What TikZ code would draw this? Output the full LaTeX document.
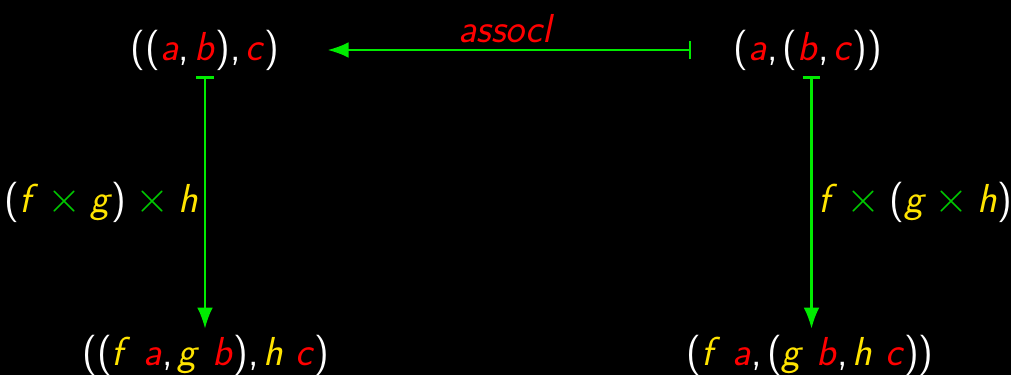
\documentclass[tikz,border=0pt]{standalone}
\usepackage{tikz}
\usetikzlibrary{arrows.meta}

\definecolor{varred}{RGB}{255,0,0}
\definecolor{funyellow}{RGB}{255,228,0}
\definecolor{arrgreen}{RGB}{0,235,0}
\definecolor{opgreen}{RGB}{0,200,0}

\newcommand{\vr}[1]{\textcolor{varred}{\textit{#1}}}
\newcommand{\fn}[1]{\textcolor{funyellow}{\textit{#1}}}
\newcommand{\tm}{\hspace{0.22em}\textcolor{opgreen}{$\times$}\hspace{0.22em}}
\newcommand{\cm}{,\hspace{0.12em}}

\tikzset{
  obj/.style={text=white, font=\fontsize{23}{27}\selectfont\sffamily},
  maps/.style={arrgreen, line width=1.2pt, {Bar[width=10pt]}-{Latex[length=12pt,width=9pt]}}
}

\begin{document}
\begin{tikzpicture}

\fill[black] (0,0) rectangle (20.22,7.5);
\useasboundingbox (0,0) rectangle (20.22,7.5);

\node[obj] at (4.10,6.50) (tl) {((\vr{a}\cm\vr{b})\cm\vr{c})};
\node[obj] at (16.16,6.50) (tr) {(\vr{a}\cm(\vr{b}\cm\vr{c}))};
\node[obj] at (4.12,0.40) (bl) {((\fn{f}\ \vr{a}\cm\fn{g}\ \vr{b})\cm\fn{h}\ \vr{c})};
\node[obj] at (16.20,0.40) (br) {(\fn{f}\ \vr{a}\cm(\fn{g}\ \vr{b}\cm\fn{h}\ \vr{c}))};

\draw[maps, shorten <=0.72cm, shorten >=0.84cm] (tr.west) -- (tl.east)
   node[obj, midway, above, text=varred] (assoc) {\textit{assocl}};

\draw[maps] (tl.south) -- (tl.south |- bl.north)
   node[obj, midway, left] (lf) {(\fn{f}\tm\fn{g})\tm\fn{h}};

\draw[maps] ([xshift=2pt]tr.south) -- ([xshift=2pt]tr.south |- br.north)
   node[obj, midway, right] (rf) {\fn{f}\tm(\fn{g}\tm\fn{h})};

\end{tikzpicture}
\end{document}
